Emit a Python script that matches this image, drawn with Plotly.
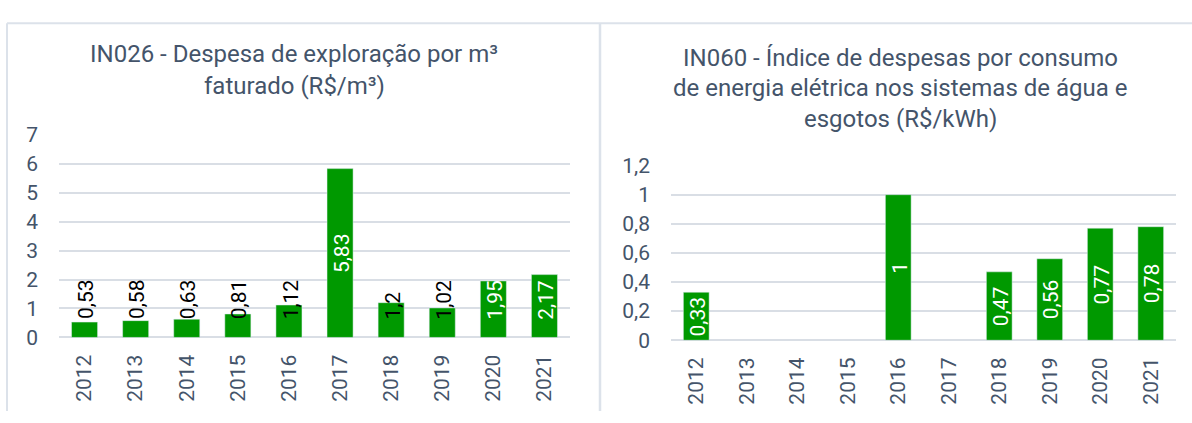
import plotly.graph_objects as go

# ---- data ----
years = ["2012", "2013", "2014", "2015", "2016", "2017", "2018", "2019", "2020", "2021"]
in026 = [0.53, 0.58, 0.63, 0.81, 1.12, 5.83, 1.2, 1.02, 1.95, 2.17]
in060 = [0.33, None, None, None, 1.0, None, 0.47, 0.56, 0.77, 0.78]

title_left = ["IN026 - Despesa de exploração por m³", "faturado (R$/m³)"]
title_right = ["IN060 - Índice de despesas por consumo",
               "de energia elétrica nos sistemas de água e",
               "esgotos (R$/kWh)"]

# ---- style ----
W, H = 1192, 423
FONT = "Roboto"
TXT = "#44546A"
GREEN = "#009900"
GRID = "#D9DEE5"
BORDER = "#DCE2EA"


def fx(px):
    return px / W


def fy(py):
    return 1 - py / H


def fmt(v):
    return f"{v:g}".replace(".", ",")


n = len(years)
fig = go.Figure()
fig.add_trace(go.Bar(x=years, y=in026, marker_color=GREEN, xaxis="x", yaxis="y",
                     hoverinfo="skip", showlegend=False))
fig.add_trace(go.Bar(x=years, y=in060, marker_color=GREEN, xaxis="x2", yaxis="y2",
                     hoverinfo="skip", showlegend=False))

axis_common = dict(showline=False, ticks="", tickfont=dict(family=FONT, size=21, color=TXT),
                   fixedrange=True)
fig.update_layout(
    width=W, height=H, margin=dict(l=0, r=0, t=0, b=0),
    paper_bgcolor="white", plot_bgcolor="white",
    separators=",.", bargap=0.49,
    font=dict(family=FONT, color=TXT),
    xaxis=dict(domain=[fx(59), fx(570)], type="category", tickangle=-90,
               range=[-0.5, n - 0.5], showgrid=False, ticklabelstandoff=12, **axis_common),
    yaxis=dict(domain=[fy(345), fy(130)], range=[0, 7.004], dtick=1, showgrid=True,
               gridcolor=GRID, gridwidth=1.6, zeroline=True, zerolinecolor=GRID,
               zerolinewidth=1.6, ticklabelstandoff=20, **axis_common),
    xaxis2=dict(domain=[fx(671), fx(1176)], type="category", tickangle=-90, anchor="y2",
                range=[-0.5, n - 0.5], showgrid=False, ticklabelstandoff=12, **axis_common),
    yaxis2=dict(domain=[fy(348), fy(162.7)], range=[0, 1.2007], dtick=0.2, anchor="x2",
                showgrid=True, gridcolor=GRID, gridwidth=1.6, zeroline=True,
                zerolinecolor=GRID, zerolinewidth=1.6, ticklabelstandoff=20,
                **axis_common),
)

ann = []
# titles
for i, line in enumerate(title_left):
    ann.append(dict(text=line, xref="paper", yref="paper", x=fx(294), y=fy(45 + 33 * i),
                    xanchor="center", yanchor="middle", showarrow=False,
                    font=dict(family=FONT, size=24, color=TXT)))
for i, line in enumerate(title_right):
    ann.append(dict(text=line, xref="paper", yref="paper", x=fx(900), y=fy(48.5 + 32.5 * i),
                    xanchor="center", yanchor="middle", showarrow=False,
                    font=dict(family=FONT, size=24, color=TXT)))

# data labels, left chart
for i, v in enumerate(in026):
    color = "white" if v >= 1.5 else "black"
    if v > 4:
        ann.append(dict(text=fmt(v), x=i, y=v / 2, xref="x", yref="y", textangle=-90,
                        xanchor="center", yanchor="middle", xshift=2, showarrow=False,
                        font=dict(family=FONT, size=21, color=color)))
    else:
        ann.append(dict(text=fmt(v), x=i, y=0, xref="x", yref="y", textangle=-90,
                        xanchor="center", yanchor="bottom", yshift=16, xshift=2,
                        showarrow=False, font=dict(family=FONT, size=21, color=color)))
# data labels, right chart
for i, v in enumerate(in060):
    if v is None:
        continue
    ann.append(dict(text=fmt(v), x=i, y=v / 2, xref="x2", yref="y2", textangle=-90,
                    xanchor="center", yanchor="middle", xshift=2, showarrow=False,
                    font=dict(family=FONT, size=21, color="white")))
fig.update_layout(annotations=ann)

# panel borders
shapes = [
    dict(type="line", xref="paper", yref="paper", x0=fx(7), x1=1, y0=fy(12), y1=fy(12),
         line=dict(color=BORDER, width=2)),
    dict(type="line", xref="paper", yref="paper", x0=fx(7), x1=fx(7), y0=fy(12), y1=0,
         line=dict(color=BORDER, width=2)),
    dict(type="line", xref="paper", yref="paper", x0=fx(600), x1=fx(600), y0=fy(12), y1=0,
         line=dict(color=BORDER, width=2.5)),
]
fig.update_layout(shapes=shapes)

fig.write_html("out.html", config={"displayModeBar": False},
               post_script="document.body.style.margin='0';")
